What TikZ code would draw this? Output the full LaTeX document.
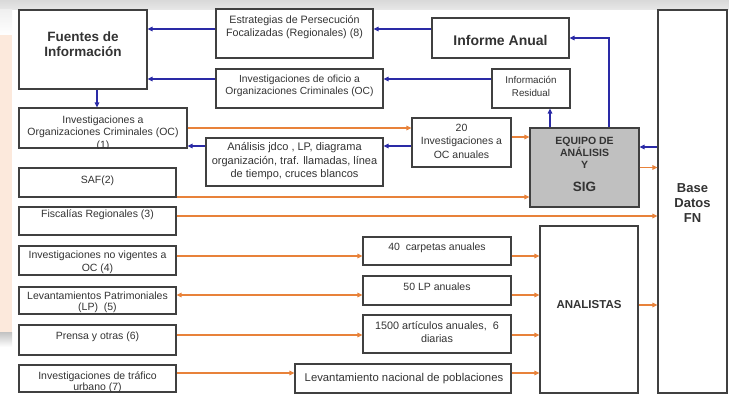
\documentclass[tikz,border=0pt]{standalone}
\usepackage{fontspec}
\setmainfont{Liberation Sans}
\usetikzlibrary{arrows.meta}
\definecolor{orng}{HTML}{E8823A}
\definecolor{blu}{HTML}{2A2AA6}
\definecolor{bord}{HTML}{404040}
\definecolor{txtc}{HTML}{333333}
\definecolor{peach}{HTML}{FCE9DC}
\definecolor{sigfill}{HTML}{C0C0C0}
\begin{document}
\begin{tikzpicture}[x=1pt,y=-1pt,
  box/.style={draw=bord, line width=1.1pt, fill=white, inner sep=0pt, rectangle},
  txt/.style={text=txtc, font=\fontsize{10.5}{13}\selectfont, align=center, inner sep=0pt},
  btxt/.style={text=txtc, font=\bfseries\fontsize{13.5}{15}\selectfont, align=center, inner sep=0pt},
  bline/.style={draw=blu, line width=1.4pt, -{Triangle[length=5pt,width=4.5pt]}},
  oline/.style={draw=orng, line width=1.3pt, -{Triangle[length=5pt,width=4.5pt]}},
  obline/.style={draw=orng, line width=1.3pt, {Triangle[length=5pt,width=4.5pt]}-{Triangle[length=5pt,width=4.5pt]}}]
\useasboundingbox (0,0) rectangle (729,398);
% background
\fill[white] (0,0) rectangle (729,398);
\shade[top color=gray!30, bottom color=gray!18] (0,0) rectangle (729,10);
\shade[top color=gray!12, bottom color=white] (0,10) rectangle (12,35);
\fill[peach] (0,35) rectangle (12,333);
\shade[top color=gray!45, bottom color=white] (0,333) rectangle (12,347);

% boxes
\node[box, minimum width=128pt, minimum height=79pt] (fuentes) at (83,49.5) {};
\node[box, minimum width=168pt, minimum height=40pt] (invoc) at (103,128) {};
\node[box, minimum width=157pt, minimum height=29pt] (saf) at (97.5,182.5) {};
\node[box, minimum width=157pt, minimum height=28pt] (fisc) at (97.5,221) {};
\node[box, minimum width=157pt, minimum height=29pt] (invnv) at (97.5,260.5) {};
\node[box, minimum width=157pt, minimum height=27pt] (levp) at (97.5,300.5) {};
\node[box, minimum width=157pt, minimum height=30pt] (prensa) at (97.5,340) {};
\node[box, minimum width=157pt, minimum height=27pt] (trafico) at (97.5,378.5) {};
\node[box, minimum width=157pt, minimum height=49pt] (estrat) at (294.5,33.5) {};
\node[box, minimum width=167pt, minimum height=39pt] (oficio) at (299.5,88.5) {};
\node[box, minimum width=177pt, minimum height=48pt] (analisis) at (294.5,162) {};
\node[box, minimum width=99pt, minimum height=49pt] (veinte) at (461.5,142.5) {};
\node[box, minimum width=137pt, minimum height=40pt] (informe) at (500.5,38) {};
\node[box, minimum width=78pt, minimum height=39pt] (residual) at (531,88.5) {};
\node[box, fill=sigfill, minimum width=109pt, minimum height=79pt] (equipo) at (584.5,167.5) {};
\node[box, minimum width=69pt, minimum height=383pt] (base) at (692.5,201.5) {};
\node[box, minimum width=148pt, minimum height=28pt] (c40) at (437,251) {};
\node[box, minimum width=148pt, minimum height=29pt] (c50) at (437,290.5) {};
\node[box, minimum width=148pt, minimum height=38pt] (c1500) at (437,334) {};
\node[box, minimum width=216pt, minimum height=29pt] (levnac) at (403,378.5) {};
\node[box, minimum width=98pt, minimum height=167pt] (analistas) at (589,309.5) {};

% texts
\node[btxt] (fuentes-t) at (83,44.5) {Fuentes de\\Información};
\begin{scope}
\clip (invoc.north west) rectangle (invoc.south east);
\node[txt, font=\fontsize{10.5}{12.5}\selectfont] (invoc-t) at (103,133) {Investigaciones a\\Organizaciones Criminales (OC)\\(1)};
\end{scope}
\node[txt] (saf-t) at (97.5,181) {SAF(2)};
\node[txt] (fisc-t) at (97.5,215) {Fiscalías Regionales (3)};
\node[txt] (invnv-t) at (97.5,262.5) {Investigaciones no vigentes a\\OC (4)};
\node[txt, font=\fontsize{10.5}{11.5}\selectfont] (levp-t) at (97.5,302.5) {Levantamientos Patrimoniales\\(LP)\ \ (5)};
\node[txt] (prensa-t) at (97.5,337) {Prensa y otras (6)};
\node[txt, font=\fontsize{10.5}{11}\selectfont] (trafico-t) at (97.5,382) {Investigaciones de tráfico\\urbano (7)};
\node[txt, font=\fontsize{10.7}{13.5}\selectfont] (estrat-t) at (294.5,27) {Estrategias de Persecución\\Focalizadas (Regionales) (8)};
\node[txt, font=\fontsize{10.3}{12.5}\selectfont] (oficio-t) at (299.5,86) {Investigaciones de oficio a\\Organizaciones Criminales (OC)};
\node[txt, font=\fontsize{11}{13.5}\selectfont] (analisis-t) at (294.5,161.5) {Análisis jdco , LP, diagrama\\organización, traf. llamadas, línea\\de tiempo, cruces blancos};
\node[txt, font=\fontsize{10.5}{13.5}\selectfont] (veinte-t) at (461.5,141) {20\\Investigaciones a\\OC anuales};
\node[btxt, font=\bfseries\fontsize{14}{16}\selectfont] (informe-t) at (500.5,40) {Informe Anual};
\node[txt, font=\fontsize{9.8}{12.5}\selectfont] (residual-t) at (531,86.5) {Información\\Residual};
\node[btxt, font=\bfseries\fontsize{10.5}{12}\selectfont] (equipo-t) at (584.5,152.5) {EQUIPO DE\\ANÁLISIS\\Y};
\node[btxt] (sig-t) at (584.5,186.5) {SIG};
\node[btxt, font=\bfseries\fontsize{13}{15}\selectfont] (base-t) at (692.5,203) {Base\\Datos\\FN};
\node[txt] (c40-t) at (437,248) {40\ \ carpetas anuales};
\node[txt] (c50-t) at (437,287) {50 LP anuales};
\node[txt, font=\fontsize{10.8}{13.5}\selectfont] (c1500-t) at (437,332) {1500 artículos anuales,\ \ 6\\diarias};
\node[txt, font=\fontsize{11.3}{13}\selectfont] (levnac-t) at (404,379) {Levantamiento nacional de poblaciones};
\node[btxt, font=\bfseries\fontsize{11.5}{13}\selectfont] (analistas-t) at (589,305) {ANALISTAS};

% level coordinates
\coordinate (y29) at (0,29);
\coordinate (y79) at (0,79);
\coordinate (y137) at (0,137);
\coordinate (y146) at (0,146);
\coordinate (y147) at (0,147);
\coordinate (y197) at (0,197);
\coordinate (y216) at (0,216);
\coordinate (y256) at (0,256);
\coordinate (y295) at (0,295);
\coordinate (y305) at (0,305);
\coordinate (y335) at (0,335);
\coordinate (y373) at (0,373);
\coordinate (x97) at (97,0);
\coordinate (x550) at (550,0);
\coordinate (x609) at (609,0);

% blue connectors
\draw[bline] (estrat.west |- y29) -- (fuentes.east |- y29);
\draw[bline] (informe.west |- y29) -- (estrat.east |- y29);
\draw[bline] (oficio.west |- y79) -- (fuentes.east |- y79);
\draw[bline] (residual.west |- y79) -- (oficio.east |- y79);
\draw[bline] (fuentes.south -| x97) -- (invoc.north -| x97);
\draw[bline] (veinte.west |- y146) -- (analisis.east |- y146);
\draw[bline] (analisis.west |- y146) -- (invoc.east |- y146);
\draw[bline] (equipo.north -| x550) -- (residual.south -| x550);
\draw[bline] (equipo.north -| x609) |- (informe.east);
\draw[bline] (base.west |- y147) -- (equipo.east |- y147);

% orange connectors
\draw[oline] (invoc.east) -- (veinte.west |- invoc.east);
\draw[oline] (veinte.east |- y137) -- (equipo.west |- y137);
\draw[oline] (equipo.east) -- (base.west |- equipo.east);
\draw[oline] (saf.east |- y197) -- (equipo.west |- y197);
\draw[oline] (fisc.east |- y216) -- (base.west |- y216);
\draw[oline] (invnv.east |- y256) -- (c40.west |- y256);
\draw[oline] (c40.east |- y256) -- (analistas.west |- y256);
\draw[obline] (levp.east |- y295) -- (c50.west |- y295);
\draw[oline] (c50.east |- y295) -- (analistas.west |- y295);
\draw[oline] (prensa.east |- y335) -- (c1500.west |- y335);
\draw[oline] (c1500.east |- y335) -- (analistas.west |- y335);
\draw[oline] (trafico.east |- y373) -- (levnac.west |- y373);
\draw[oline] (levnac.east |- y373) -- (analistas.west |- y373);
\draw[oline] (analistas.east |- y305) -- (base.west |- y305);
\end{tikzpicture}
\end{document}
